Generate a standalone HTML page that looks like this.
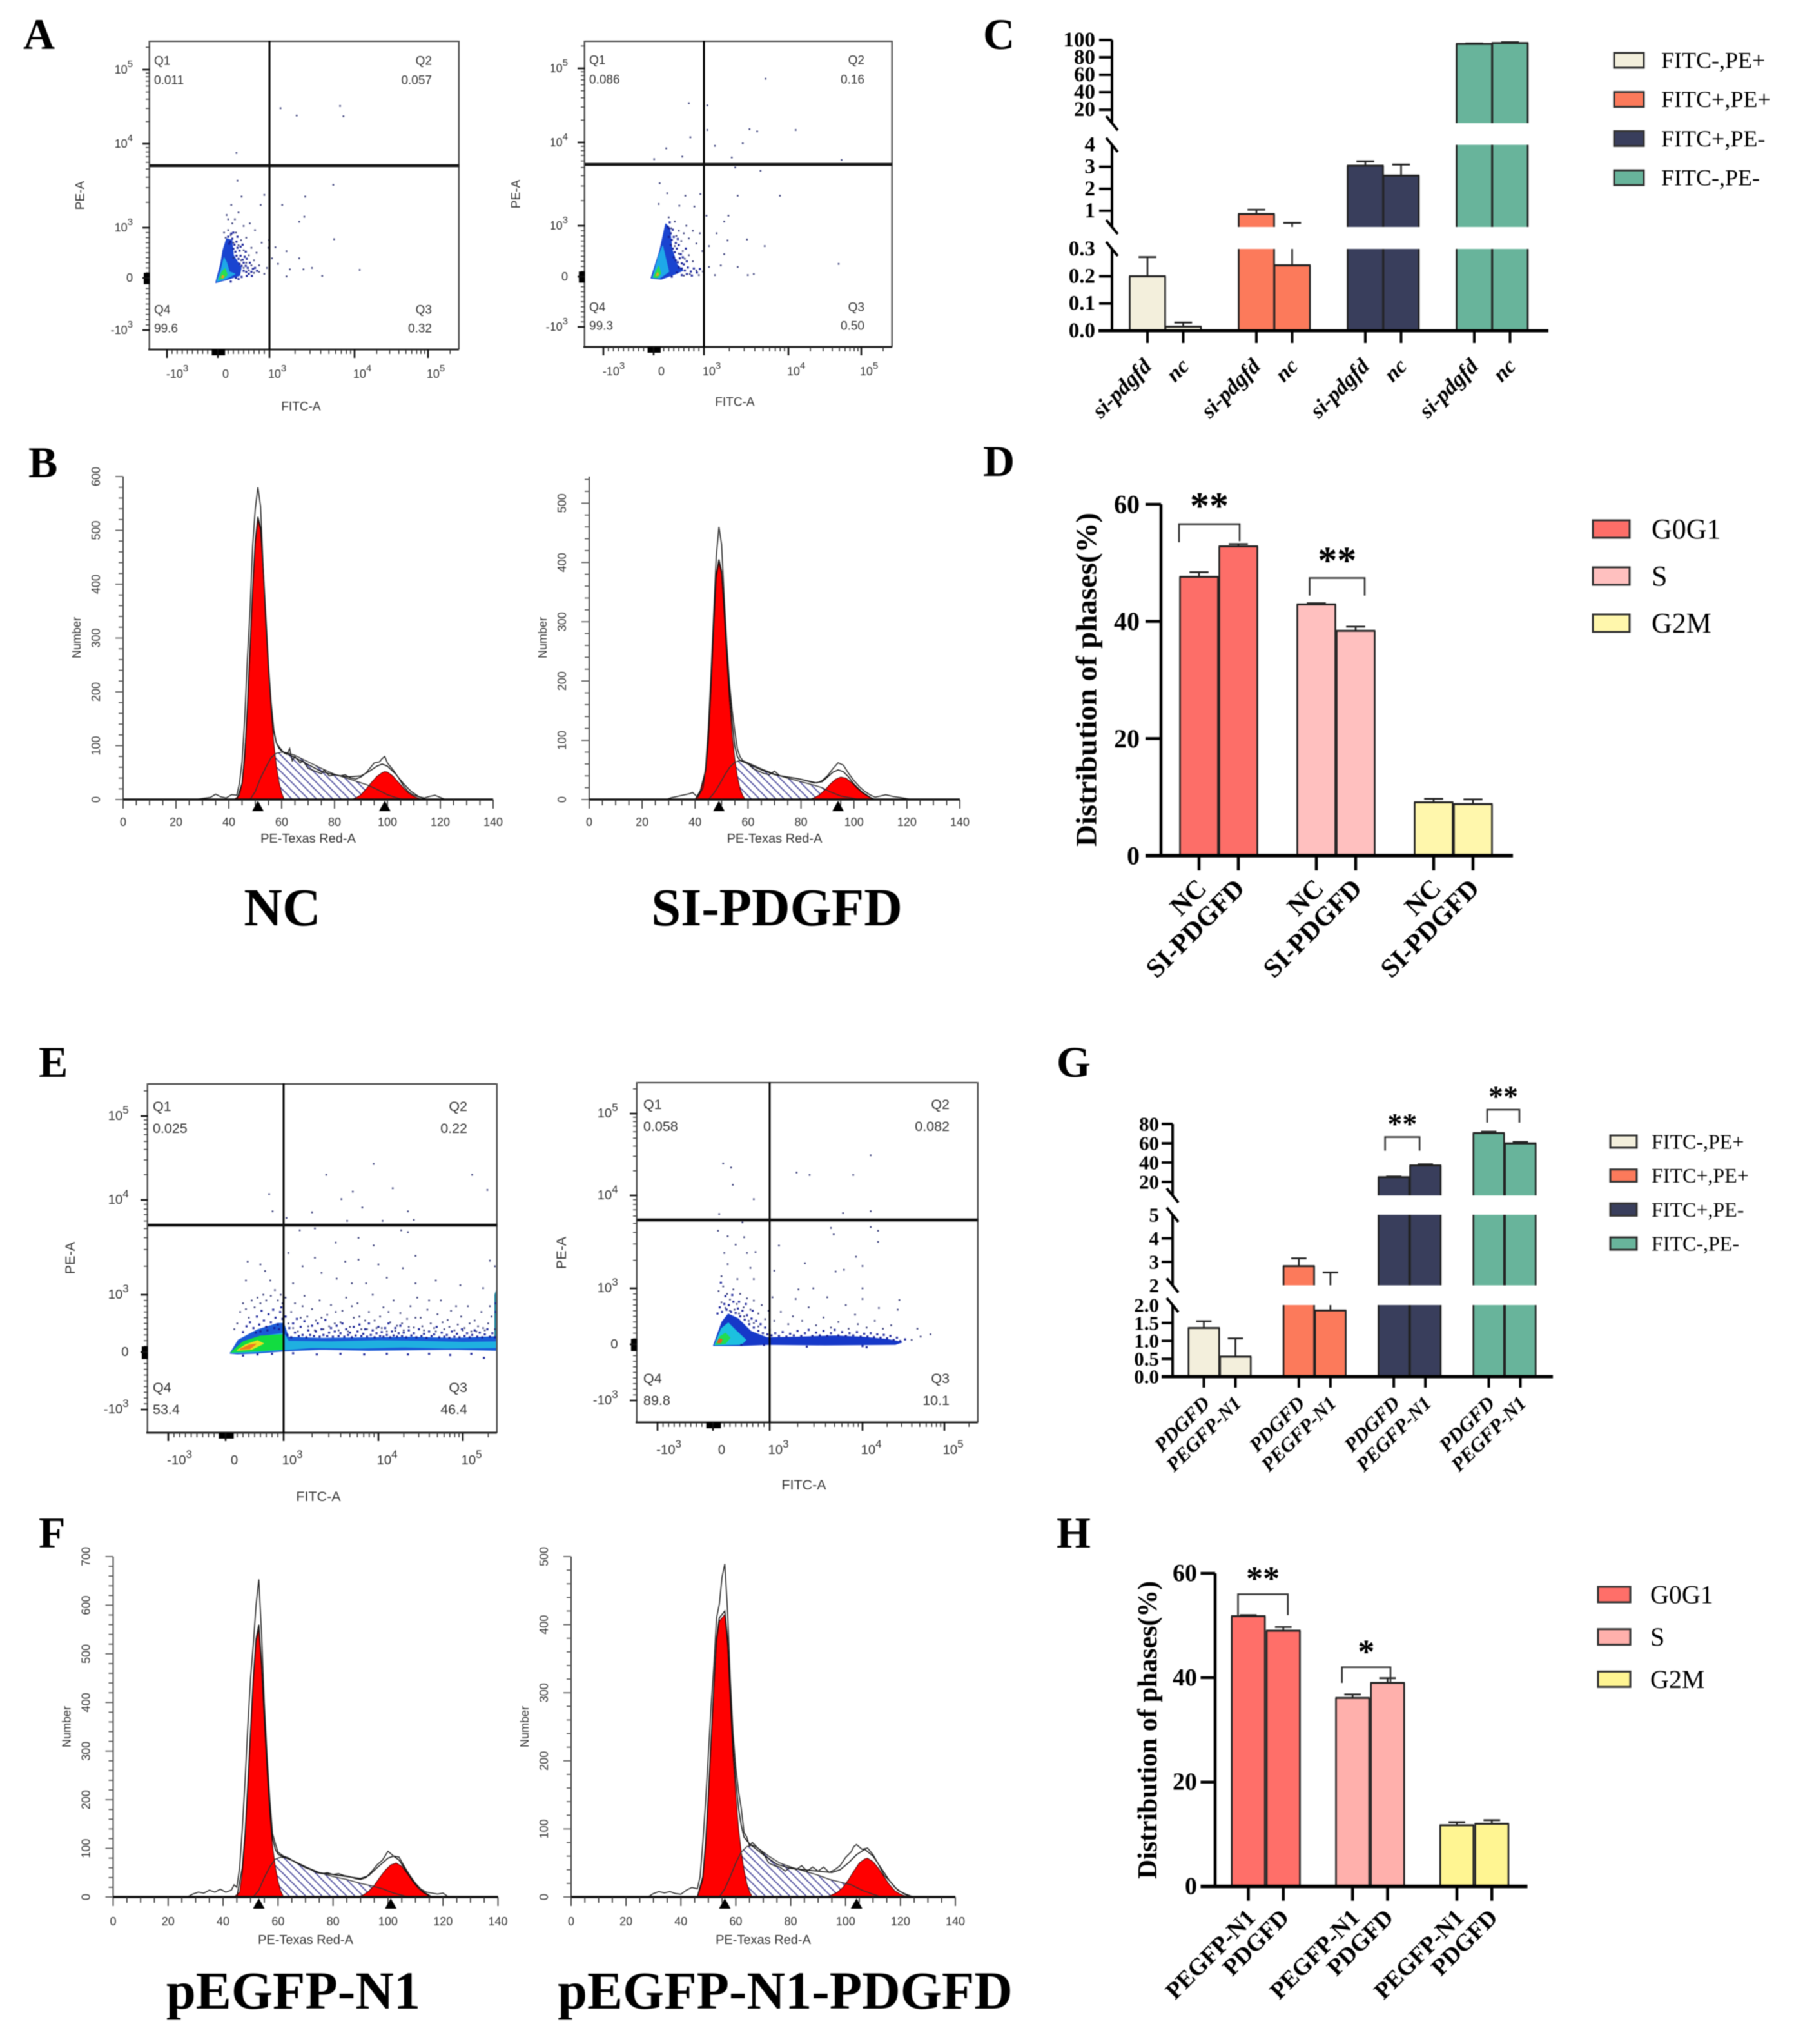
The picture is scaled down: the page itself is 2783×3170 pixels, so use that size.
<!DOCTYPE html>
<html lang="en">
<head>
<meta charset="utf-8">
<title>Flow cytometry apoptosis and cell cycle figure</title>
<style>
html,body{margin:0;padding:0;background:#fff}
#figure{display:block;filter:blur(0.9px)}
.serif{font-family:"Liberation Serif",serif}
.sans{font-family:"Liberation Sans",sans-serif}
</style>
</head>
<body>
<svg id="figure" xmlns="http://www.w3.org/2000/svg" width="2783" height="3170" viewBox="0 0 2783 3170">
<defs>
<pattern id="hatch" patternUnits="userSpaceOnUse" width="9" height="9" patternTransform="rotate(-45)">
<rect width="9" height="9" fill="#ffffff"/>
<line x1="2" y1="0" x2="2" y2="9" stroke="#45459a" stroke-width="1.7"/>
</pattern>
</defs>
<rect width="2783" height="3170" fill="#ffffff"/>
<g class="serif" font-weight="bold" font-size="68" fill="#000">
<text x="36" y="76">A</text>
<text x="44" y="740">B</text>
<text x="1525" y="76">C</text>
<text x="1525" y="738">D</text>
<text x="60" y="1670">E</text>
<text x="60" y="2400">F</text>
<text x="1639" y="1670">G</text>
<text x="1639" y="2400">H</text>
</g>
<g class="serif" font-weight="bold" font-size="82.5" fill="#000" text-anchor="middle">
<text x="438" y="1424" dy="11">NC</text>
<text x="1193" y="1424" dx="12" dy="11">SI-PDGFD</text>
<text x="450" y="3115" dx="5">pEGFP-N1</text>
<text x="1206" y="3115" dx="12">pEGFP-N1-PDGFD</text>
</g>
<g id="plot-a-left"></g>
<g id="plot-a-right"></g>
<g id="plot-e-left"></g>
<g id="plot-e-right"></g>
<g id="hist-b-left"></g>
<g id="hist-b-right"></g>
<g id="hist-f-left"></g>
<g id="hist-f-right"></g>
<g id="chart-c"></g>
<g id="chart-d"></g>
<g id="chart-g"></g>
<g id="chart-h"></g>
</svg>
<script>
/* ---------- bar chart data ---------- */
const apoptosisLegend = ['FITC-,PE+','FITC+,PE+','FITC+,PE-','FITC-,PE-'];
const phaseLegend = ['G0G1','S','G2M'];

const cCategories = ['si-pdgfd','nc'];
const cMeans = [[0.2,0.015],[0.85,0.24],[3.05,2.6],[95.5,96.5]];
const cUpper = [[0.27,0.03],[1.05,0.45],[3.25,3.1],[96,97.5]];
const cTickValues = [[0,0.1,0.2,0.3],[1,2,3,4],[20,40,60,80,100]];
const cTickLabels = [['0.0','0.1','0.2','0.3'],['1','2','3','4'],['20','40','60','80','100']];

const dCategories = ['NC','SI-PDGFD'];
const dMeans = [[47.6,52.8],[42.9,38.4],[9.1,8.8]];
const dUpper = [[48.4,53.2],[43.1,39.1],[9.7,9.6]];
const dTickValues = [[0,20,40,60]];
const dTickLabels = [['0','20','40','60']];

const gCategories = ['PDGFD','PEGFP-N1'];
const gMeans = [[1.36,0.56],[2.82,1.85],[24.8,37],[70.5,59.8]];
const gUpper = [[1.55,1.07],[3.15,2.55],[25.6,38.2],[72,61.3]];
const gTickValues = [[0,0.5,1,1.5,2],[2,3,4,5],[20,40,60,80]];
const gTickLabels = [['0.0','0.5','1.0','1.5','2.0'],['2','3','4','5'],['20','40','60','80']];

const hCategories = ['PEGFP-N1','PDGFD'];
const hMeans = [[51.8,49],[36.1,39],[11.7,12]];
const hUpper = [[52,49.7],[36.8,39.9],[12.3,12.7]];
const hTickValues = [[0,20,40,60]];
const hTickLabels = [['0','20','40','60']];

/* ---------- histogram data: [channel, count] ---------- */
const bLeftRaw = [[0,0],[27,0],[30,2],[33,4],[35,10],[37,5],[39,3],[41,9],[43,8],[44,30],[45,70],[46,150],[47,260],[48,350],[49,470],[50,540],[51,580],[52,545],[53,430],[54,325],[55,245],[56,175],[57,125],[58,105],[59,98],[60,92],[61,86],[62,84],[63,95],[64,72],[65,80],[67,68],[68,72],[70,58],[72,54],[73,52],[75,48],[76,55],[78,44],[80,46],[82,44],[84,46],[86,40],[88,38],[90,42],[92,50],[94,62],[95,68],[97,70],[98,76],[99,80],[100,68],[102,56],[104,42],[106,26],[108,14],[110,8],[112,5],[114,3],[116,6],[118,8],[120,4],[122,0],[140,0]];
const bLeftFit = [[43,0],[45,30],[46,80],[47,170],[48,280],[49,390],[50,480],[51,525],[52,505],[53,430],[54,340],[55,250],[56,180],[57,130],[58,105],[59,95],[60,90],[65,78],[70,65],[75,52],[80,46],[85,42],[90,44],[93,52],[96,62],[98,66],[100,62],[103,48],[106,30],[109,15],[112,5],[115,0]];
const bLeftG1 = [[42,0],[44,8],[45,30],[46,90],[47,165],[48,270],[49,385],[50,475],[51,520],[52,500],[53,425],[54,330],[55,240],[56,165],[57,105],[58,62],[59,32],[60,12],[61,0]];
const bLeftS = [[48,0],[50,15],[52,40],[54,60],[56,78],[58,86],[60,88],[62,87],[65,82],[70,70],[75,58],[80,47],[85,39],[90,31],[93,26],[96,19],[100,9],[103,4],[106,0]];
const bLeftG2 = [[86,0],[88,3],[90,9],[92,20],[94,32],[96,43],[98,50],[99,52],[100,51],[102,44],[104,33],[106,22],[108,12],[110,6],[112,2],[114,0]];
const bLeftPeaks = [51,99];

const bRightRaw = [[0,0],[29,0],[31,3],[33,5],[36,8],[38,10],[39,12],[41,4],[43,20],[44,55],[45,120],[46,210],[47,310],[48,410],[49,460],[50,430],[51,340],[52,260],[53,195],[54,150],[55,115],[56,85],[57,72],[58,66],[60,60],[62,52],[64,48],[66,44],[68,42],[70,48],[72,40],[75,38],[78,36],[80,34],[84,30],[86,28],[88,32],[90,40],[92,52],[94,62],[96,58],[98,44],[100,32],[102,22],[104,14],[106,8],[108,4],[110,6],[112,8],[115,5],[118,3],[122,0],[140,0]];
const bRightFit = [[40,0],[42,15],[44,50],[45,100],[46,190],[47,290],[48,380],[49,405],[50,385],[51,320],[52,245],[53,180],[54,130],[55,90],[56,72],[57,66],[60,60],[65,50],[70,42],[75,38],[80,34],[85,28],[88,30],[90,38],[92,46],[94,50],[96,47],[98,38],[100,26],[103,13],[106,4],[108,0]];
const bRightG1 = [[40,0],[42,14],[44,48],[45,95],[46,185],[47,285],[48,375],[49,400],[50,380],[51,310],[52,235],[53,165],[54,110],[55,68],[56,38],[57,18],[58,7],[59,0]];
const bRightS = [[45,0],[47,10],[49,24],[51,40],[53,54],[55,63],[57,66],[59,64],[62,58],[66,50],[70,43],[75,36],[80,30],[85,24],[88,20],[91,13],[95,6],[100,2],[102,0]];
const bRightG2 = [[83,0],[85,3],[87,8],[89,16],[91,26],[93,34],[95,38],[97,36],[99,29],[101,20],[103,12],[105,6],[107,2],[108,0]];
const bRightPeaks = [49,94];

const fLeftRaw = [[0,0],[27,0],[29,6],[31,10],[33,8],[35,14],[37,10],[39,16],[41,10],[43,14],[44,25],[45,20],[46,60],[47,140],[48,240],[49,350],[50,450],[51,520],[52,600],[53,653],[54,540],[55,400],[56,290],[57,200],[58,130],[59,110],[60,92],[62,84],[64,80],[66,72],[68,66],[70,60],[72,56],[74,50],[76,48],[78,50],[80,46],[82,48],[84,44],[86,42],[88,38],[90,36],[92,40],[94,52],[96,66],[98,76],[100,94],[102,84],[104,82],[106,62],[108,44],[110,28],[112,16],[114,10],[116,8],[118,6],[120,8],[122,0],[140,0]];
const fLeftFit = [[45,0],[47,60],[48,130],[49,230],[50,340],[51,450],[52,530],[53,560],[54,480],[55,370],[56,270],[57,180],[58,120],[59,98],[60,88],[62,82],[65,76],[70,62],[75,50],[80,46],[85,42],[90,38],[93,44],[96,60],[98,70],[100,80],[102,84],[104,76],[107,50],[110,26],[113,10],[116,0]];
const fLeftG1 = [[44,0],[46,10],[47,50],[48,125],[49,225],[50,335],[51,445],[52,525],[53,550],[54,470],[55,360],[56,260],[57,170],[58,105],[59,62],[60,32],[61,12],[62,0]];
const fLeftS = [[51,0],[53,14],[55,40],[57,62],[59,78],[61,82],[63,80],[66,73],[70,62],[75,50],[80,42],[85,36],[90,28],[94,23],[98,17],[102,8],[106,2],[108,0]];
const fLeftG2 = [[89,0],[91,4],[93,12],[95,24],[97,40],[99,55],[101,66],[103,70],[105,63],[107,48],[109,32],[111,18],[113,8],[115,2],[116,0]];
const fLeftPeaks = [53,101];

const fRightRaw = [[0,0],[28,0],[30,5],[32,8],[34,6],[36,8],[38,5],[40,4],[42,10],[44,14],[46,12],[47,30],[48,80],[49,140],[50,210],[51,280],[52,340],[53,410],[54,430],[55,470],[56,489],[57,420],[58,320],[59,240],[60,190],[61,155],[62,130],[63,95],[64,88],[65,75],[66,80],[68,72],[70,64],[72,50],[74,46],[76,44],[78,38],[80,44],[82,40],[84,46],[86,38],[88,44],[90,38],[92,44],[94,36],[96,40],[98,46],[100,58],[102,66],[103,74],[104,77],[106,70],[108,72],[110,62],[112,48],[114,32],[116,24],[118,14],[120,8],[122,4],[124,1],[126,0],[140,0]];
const fRightFit = [[46,0],[48,30],[49,80],[50,150],[51,230],[52,310],[53,380],[54,410],[55,415],[56,420],[57,380],[58,300],[59,220],[60,170],[61,130],[62,105],[63,88],[65,78],[70,62],[75,48],[80,42],[85,40],[90,38],[95,36],[98,40],[101,50],[104,62],[107,70],[110,60],[113,42],[116,24],[119,10],[122,3],[124,0]];
const fRightG1 = [[46,0],[48,25],[49,75],[50,145],[51,225],[52,305],[53,375],[54,405],[55,410],[56,415],[57,370],[58,285],[59,205],[60,150],[61,100],[62,66],[63,40],[64,20],[65,8],[66,0]];
const fRightS = [[54,0],[56,12],[58,30],[60,50],[62,66],[64,74],[66,76],[68,72],[72,60],[76,50],[80,44],[85,38],[90,32],[94,26],[98,22],[102,18],[106,10],[110,4],[113,0]];
const fRightG2 = [[93,0],[95,3],[97,7],[99,14],[101,25],[103,38],[105,50],[107,56],[108,57],[110,52],[112,42],[114,30],[116,18],[118,9],[120,4],[122,1],[124,0]];
const fRightPeaks = [56,104];

/* ---------- flow cytometry events, in axis-scale units (1 = 10^3, 2 = 10^4, 3 = 10^5) ---------- */
const flowXLabels = ['-10','0','10','10','10'];
const flowExponents = ['3','','3','4','5'];
const flowScale = [-1,0,1,2,3];

const aLeftEvents = [[1.13,2.48],[1.32,2.38],[1.83,2.51],[1.87,2.37],[0.36,1.89],[0.38,1.56],[1.75,1.51],[1.42,1.37],[0.9,1.39],[0.46,1.37],[1.15,1.27],[1.41,1.13],[1.35,1.07],[0.83,1.27],[0.26,1.27],[0.4,1.18],[0.17,1.15],[1.76,0.77],[2.07,0.16],[1.62,0.04],[1.5,0.2],[1.35,0.39],[1.2,0.53],[1.07,0.61],[1.03,0.39],[1.1,0.28],[1.24,0.17],[1.2,0.03],[1.4,0.17],[0.12,0.9],[0.15,0.8],[0.2,0.95],[0.25,0.85],[0.3,0.7],[0.35,0.9],[0.4,0.65],[0.45,0.75],[0.5,0.55],[0.55,0.8],[0.6,0.45],[0.65,0.6],[0.7,0.35],[0.75,0.5],[0.8,0.25],[0.3,0.4],[0.45,0.35],[0.5,0.2],[0.55,0.3],[0.6,0.15],[0.65,0.25],[0.7,0.1],[0.8,0.12],[0.9,0.08],[0.95,0.2],[0.98,0.6],[0.99,0.75],[0.85,0.7],[0.72,0.95],[0.62,1.05],[0.5,1.02],[0.33,1.1],[0.28,1.05],[0.2,1.1]];
const aLeftDense = [[0.2,0.82],[0.24,0.72],[0.28,0.78],[0.32,0.66],[0.36,0.72],[0.3,0.58],[0.34,0.52],[0.38,0.6],[0.42,0.54],[0.36,0.44],[0.4,0.38],[0.44,0.44],[0.48,0.36],[0.42,0.28],[0.46,0.24],[0.5,0.3],[0.54,0.24],[0.5,0.14],[0.55,0.12],[0.6,0.08],[0.65,0.12],[0.58,0.2],[0.62,0.3],[0.68,0.18],[0.72,0.2],[0.76,0.14],[0.52,0.42],[0.56,0.38],[0.26,0.88],[0.3,0.9],[0.22,0.68],[0.38,0.82],[0.44,0.62],[0.48,0.66],[0.54,0.52],[0.46,0.02],[0.35,0],[0.25,-0.07],[0.4,-0.02],[0.56,0.04],[0.66,0.04]];
const aLeftBlue = [[-0.04,-0.09],[0.06,0.3],[0.1,0.55],[0.17,0.78],[0.27,0.75],[0.3,0.45],[0.45,0.2],[0.42,0.05],[0.18,-0.03]];
const aLeftCyan = [[-0.02,-0.07],[0.06,0.15],[0.12,0.4],[0.17,0.3],[0.22,0.12],[0.33,0.08],[0.15,-0.02]];
const aLeftGreen = [[0.02,-0.03],[0.08,0.12],[0.14,0.18],[0.18,0.06],[0.1,-0.01]];
const aLeftCore = [[0.07,0.01],[0.09,0.05],[0.12,0.03],[0.1,0]];

const aRightEvents = [[1.73,2.86],[0.7,2.53],[1.04,2.5],[1.04,2.17],[1.54,2.18],[1.63,2.15],[2.1,2.17],[0.73,2.07],[1.46,1.99],[1.13,1.96],[0.25,1.93],[0.57,1.83],[0.01,1.8],[1.33,1.82],[2.73,1.79],[1.37,1.7],[1.67,1.66],[0.12,1.51],[1.9,1.36],[1.4,1.36],[0.93,1.38],[0.27,1.39],[0.63,1.36],[0.51,1.24],[0.81,1.23],[0.1,1.26],[1.29,1.12],[1.24,1.05],[1.03,1.12],[1.15,0.85],[1.51,0.73],[1.28,0.71],[1.72,0.6],[1.06,0.6],[1.24,0.44],[2.69,0.25],[1.4,0.19],[1.59,0.05],[1.52,0.03],[1.13,0.03],[1.2,0.22],[1.06,0.19],[0.3,1.1],[0.35,0.95],[0.42,1.05],[0.45,0.8],[0.5,0.9],[0.55,0.7],[0.6,0.85],[0.65,1],[0.7,0.75],[0.78,0.9],[0.85,0.65],[0.92,0.85],[0.97,0.5],[0.42,0.6],[0.5,0.45],[0.58,0.5],[0.62,0.35],[0.7,0.42],[0.78,0.3],[0.85,0.12],[0.9,0.03],[0.98,0.1],[0.72,0.05],[0.6,0.02]];
const aRightDense = [[0.3,0.95],[0.34,0.85],[0.38,0.92],[0.3,0.78],[0.36,0.72],[0.4,0.78],[0.44,0.66],[0.34,0.62],[0.38,0.55],[0.42,0.48],[0.46,0.55],[0.5,0.62],[0.4,0.38],[0.44,0.32],[0.48,0.28],[0.52,0.36],[0.56,0.26],[0.5,0.18],[0.56,0.16],[0.62,0.12],[0.68,0.18],[0.74,0.1],[0.8,0.16],[0.86,0.08],[0.92,0.15],[0.6,0.24],[0.66,0.3],[0.54,0.44],[0.58,0.38],[0.46,0.08],[0.56,0.03],[0.66,0.05],[0.76,0.02],[0.36,0],[0.28,0.98],[0.32,1.04],[0.48,0.74],[0.64,0.55]];
const aRightBlue = [[-0.05,-0.03],[0.12,0.5],[0.24,1.02],[0.32,0.95],[0.36,0.55],[0.46,0.24],[0.58,0.12],[0.42,0.05],[0.15,-0.05]];
const aRightCyan = [[-0.02,-0.02],[0.1,0.4],[0.18,0.6],[0.25,0.3],[0.3,0.1],[0.12,-0.03]];
const aRightGreen = [[0,-0.01],[0.06,0.12],[0.1,0.2],[0.14,0.06],[0.07,-0.02]];
const aRightCore = [[0.05,0.02],[0.08,0.08],[0.1,0.03]];

const eLeftEvents = [[1.95,2.43],[1.45,2.3],[3.11,2.3],[2.17,2.14],[3.29,2.12],[1.73,2.1],[0.75,2.07],[1.61,2.01],[1.83,1.92],[0.81,1.88],[1.3,1.87],[2.35,1.88],[1.03,1.81],[1.67,1.78],[2.05,1.78],[2.42,1.79],[1.33,1.7],[1.17,1.68],[2.27,1.68],[2.35,1.66],[1.79,1.6],[1.55,1.55],[1.95,1.52],[2.44,1.41],[1.05,1.44],[1.33,1.39],[3.32,1.36],[0.38,1.35],[0.6,1.32],[1.2,1.3],[1.65,1.35],[1.79,1.37],[2,1.32],[2.29,1.28],[3.38,1.3],[0.68,1.25],[1.4,1.23],[0.35,1.15],[0.77,1.15],[1.1,1.12],[1.56,1.17],[1.72,1.12],[1.87,1.12],[2.1,1.18],[2.44,1.12],[2.68,1.15],[2.97,1.1],[3.24,1.07],[1.02,0.95],[1.08,0.7],[1.12,0.85],[1.18,0.6],[1.22,0.98],[1.26,0.45],[1.3,0.75],[1.34,0.55],[1.38,0.9],[1.42,0.4],[1.46,0.65],[1.5,0.82],[1.54,0.5],[1.58,0.38],[1.62,0.72],[1.66,0.95],[1.7,0.44],[1.74,0.6],[1.78,0.85],[1.82,0.4],[1.86,0.55],[1.9,0.7],[1.94,1],[1.98,0.42],[2.02,0.62],[2.06,0.78],[2.1,0.36],[2.14,0.52],[2.18,0.9],[2.22,0.46],[2.26,0.68],[2.3,0.38],[2.34,0.58],[2.38,0.8],[2.42,0.43],[2.46,0.95],[2.5,0.6],[2.54,0.38],[2.58,0.74],[2.62,0.5],[2.66,0.42],[2.7,0.66],[2.74,0.9],[2.78,0.4],[2.82,0.56],[2.86,0.72],[2.9,0.38],[2.94,0.48],[2.98,0.62],[3.02,0.42],[3.06,0.8],[3.1,0.36],[3.14,0.55],[3.18,0.45],[3.22,0.7],[3.26,0.38],[3.3,0.5],[3.34,0.62],[3.38,0.4],[1.05,0.5],[1.1,0.42],[1.15,0.36],[1.2,0.8],[1.25,0.62],[1.33,0.38],[1.4,0.6],[1.48,0.45],[1.55,0.7],[1.6,0.52],[1.68,0.36],[1.72,0.8],[1.8,0.62],[1.88,0.4],[1.96,0.55],[2.04,0.42],[2.12,0.7],[2.2,0.37],[2.28,0.5],[2.36,0.44],[2.44,0.6],[2.52,0.45],[2.6,0.9],[2.68,0.36],[2.76,0.52],[2.84,0.44],[2.92,0.8],[3,0.38],[3.08,0.5],[3.16,0.36],[3.24,0.42],[3.32,0.8],[0.2,0.5],[0.25,0.7],[0.3,0.85],[0.4,0.6],[0.45,0.9],[0.5,0.78],[0.55,0.95],[0.6,0.85],[0.65,1],[0.7,0.9],[0.78,0.98],[0.85,1.05],[0.9,0.9],[0.95,1],[0.98,0.85],[0.15,0.4],[0.35,0.75]];
const eLeftDense = [[0.3,0.35],[0.36,0.45],[0.42,0.52],[0.48,0.42],[0.54,0.62],[0.58,0.48],[0.62,0.72],[0.66,0.55],[0.7,0.44],[0.74,0.66],[0.78,0.52],[0.82,0.74],[0.86,0.6],[0.9,0.48],[0.94,0.7],[0.98,0.58],[0.96,0.78],[0.6,0.36],[0.52,0.34],[0.72,0.38],[0.84,0.42],[0.92,0.4],[1.02,0.62],[1.04,0.3],[1.06,0.42],[1.08,0.26],[1.1,0.5],[1.12,0.34],[1.14,0.58],[1.16,0.28],[1.18,0.44],[1.2,0.3],[1.22,0.54],[1.24,0.26],[1.26,0.38],[1.28,0.3],[1.3,0.46],[1.32,0.28],[1.34,0.36],[1.36,0.5],[1.38,0.27],[1.4,0.4],[1.42,0.3],[1.44,0.56],[1.46,0.28],[1.48,0.34],[1.5,0.42],[1.52,0.27],[1.54,0.36],[1.56,0.46],[1.58,0.28],[1.6,0.33],[1.62,0.5],[1.64,0.27],[1.66,0.4],[1.68,0.3],[1.7,0.34],[1.72,0.26],[1.74,0.44],[1.76,0.29],[1.78,0.36],[1.8,0.48],[1.82,0.28],[1.84,0.32],[1.86,0.4],[1.88,0.27],[1.9,0.5],[1.92,0.3],[1.94,0.38],[1.96,0.26],[1.98,0.33],[2,0.44],[2.02,0.28],[2.04,0.35],[2.06,0.27],[2.08,0.42],[2.1,0.3],[2.12,0.5],[2.14,0.26],[2.16,0.36],[2.18,0.29],[2.2,0.42],[2.22,0.27],[2.24,0.33],[2.26,0.46],[2.28,0.28],[2.3,0.34],[2.33,0.26],[2.36,0.38],[2.39,0.29],[2.42,0.33],[2.45,0.26],[2.48,0.4],[2.51,0.28],[2.54,0.32],[2.57,0.25],[2.6,0.36],[2.63,0.28],[2.66,0.31],[2.69,0.44],[2.72,0.26],[2.75,0.34],[2.78,0.27],[2.81,0.3],[2.84,0.25],[2.87,0.36],[2.9,0.27],[2.93,0.32],[2.96,0.26],[2.99,0.4],[3.02,0.28],[3.05,0.33],[3.08,0.26],[3.11,0.3],[3.14,0.38],[3.17,0.27],[3.2,0.34],[3.23,0.26],[3.26,0.31],[3.29,0.4],[3.32,0.27],[3.35,0.33],[3.38,0.26],[3.39,0.7],[3.39,0.85],[1.1,-0.02],[1.35,-0.04],[1.6,-0.03],[1.85,-0.04],[2.1,-0.03],[2.35,-0.04],[2.6,-0.03],[2.85,-0.05],[3.1,-0.03],[3.25,-0.1],[0.3,-0.06],[0.55,-0.04],[0.8,-0.03]];
const eLeftBlue = [[0.08,-0.02],[0.22,0.21],[0.55,0.39],[0.9,0.5],[1,0.5],[1.05,0.26],[1.4,0.24],[1.9,0.25],[2.4,0.26],[2.9,0.24],[3.4,0.27],[3.4,0.03],[2.9,0.05],[2.4,0.04],[1.9,0.03],[1.4,0.05],[1,0.02],[0.5,-0.02],[0.2,-0.03]];
const eLeftCyan = [[0.1,-0.01],[0.28,0.15],[0.6,0.27],[1,0.33],[1.05,0.19],[1.5,0.18],[2,0.2],[2.5,0.19],[3,0.17],[3.4,0.18],[3.4,0.08],[2.8,0.07],[2.3,0.09],[1.8,0.07],[1.3,0.08],[1,0.04],[0.5,0],[0.2,-0.01]];
const eLeftGreen = [[0.1,0],[0.3,0.18],[0.6,0.28],[0.98,0.3],[1,0.05],[0.5,0.02]];
const eLeftYellow = [[0.2,0.03],[0.35,0.13],[0.55,0.2],[0.65,0.15],[0.45,0.05]];
const eLeftCore = [[0.25,0.05],[0.4,0.12],[0.52,0.14],[0.42,0.06]];
const eLeftEdge = [[3.38,0.05],[3.38,1.0],[3.4,1.05],[3.4,0.05]];

const eRightEvents = [[0.18,2.39],[0.32,2.34],[0.35,2.13],[1.29,2.28],[1.43,2.25],[1.9,2.25],[2.1,2.49],[0.72,1.96],[0.11,1.8],[1.79,1.81],[2.1,1.83],[0.09,1.62],[0.52,1.71],[0.26,1.56],[0.55,1.55],[1.66,1.65],[1.69,1.58],[2.1,1.66],[2.19,1.62],[2.19,1.5],[1.1,1.46],[0.4,1.47],[1.93,1.34],[0.2,1.38],[0.6,1.38],[0.75,1.39],[1.38,1.27],[2,1.24],[1.71,1.18],[1.8,1.2],[1.05,1.19],[0.26,1.26],[0.66,1.22],[0.15,1.13],[0.43,1.1],[0.72,1.1],[1.31,0.98],[1.47,1],[2,1],[1.03,0.84],[1.28,0.81],[1.62,0.84],[2.45,0.79],[1.82,0.7],[2,0.81],[2.43,0.62],[2.2,0.65],[1.92,0.53],[2.67,0.28],[2.83,0.18],[2.71,0.14],[2.6,0.08],[0.1,0.95],[0.18,1.02],[0.25,0.9],[0.3,0.8],[0.36,0.98],[0.42,0.72],[0.48,0.9],[0.54,0.66],[0.6,0.82],[0.66,0.62],[0.72,0.78],[0.8,0.55],[0.86,0.7],[0.92,0.45],[0.98,0.6],[1.05,0.42],[1.12,0.58],[1.2,0.36],[1.25,0.5],[1.35,0.42],[1.42,0.66],[1.5,0.34],[1.58,0.48],[1.66,0.3],[1.74,0.4],[1.85,0.28],[1.95,0.36],[2.05,0.3],[2.15,0.42],[2.25,0.28],[2.35,0.34],[0.15,0.75],[0.22,0.65],[0.3,0.6],[0.38,0.62],[0.46,0.55],[0.55,0.5],[0.63,0.42],[0.72,0.38],[0.8,0.32]];
const eRightDense = [[0.08,0.55],[0.12,0.66],[0.16,0.58],[0.2,0.72],[0.24,0.62],[0.28,0.7],[0.32,0.58],[0.36,0.76],[0.4,0.56],[0.44,0.64],[0.48,0.5],[0.52,0.6],[0.56,0.44],[0.6,0.52],[0.64,0.36],[0.68,0.46],[0.72,0.3],[0.76,0.42],[0.8,0.24],[0.84,0.36],[0.88,0.2],[0.92,0.3],[0.96,0.18],[1,0.26],[0.14,1.06],[0.22,0.86],[0.34,0.88],[0.46,0.76],[0.58,0.72],[0.7,0.6],[1.02,0.16],[1.06,0.2],[1.1,0.15],[1.14,0.22],[1.18,0.14],[1.22,0.19],[1.26,0.16],[1.3,0.24],[1.34,0.15],[1.38,0.2],[1.42,0.26],[1.46,0.15],[1.5,0.21],[1.54,0.16],[1.58,0.24],[1.62,0.15],[1.66,0.2],[1.7,0.26],[1.74,0.16],[1.78,0.22],[1.82,0.15],[1.86,0.2],[1.9,0.16],[1.94,0.22],[1.98,0.14],[2.02,0.19],[2.06,0.14],[2.1,0.2],[2.14,0.13],[2.18,0.18],[2.22,0.12],[2.26,0.17],[2.3,0.11],[2.34,0.15],[2.38,0.08],[2.42,0.12],[2.46,0.06],[2.52,0.09],[1.4,-0.04],[2,-0.03],[2.05,-0.05],[0.5,-0.01],[0.9,-0.01]];
const eRightBlue = [[0.01,-0.02],[0.16,0.4],[0.27,0.54],[0.44,0.46],[0.67,0.23],[0.95,0.12],[1.3,0.13],[1.7,0.15],[2,0.13],[2.3,0.09],[2.48,0.04],[2.4,0],[1.6,-0.01],[0.95,0],[0.5,-0.02]];
const eRightCyan = [[0.03,-0.01],[0.15,0.28],[0.27,0.38],[0.4,0.25],[0.58,0.08],[0.5,0]];
const eRightGreen = [[0.05,0],[0.13,0.14],[0.22,0.2],[0.3,0.12],[0.22,0.02]];
const eRightCore = [[0.08,0.03],[0.11,0.1],[0.16,0.09],[0.14,0.03]];

/* ---------- shared drawing helpers ---------- */
const NS = 'http://www.w3.org/2000/svg';
function make(parent, tag, attrs, text) {
  const node = document.createElementNS(NS, tag);
  for (const key in attrs) node.setAttribute(key, attrs[key]);
  if (text !== undefined) node.textContent = text;
  parent.appendChild(node);
  return node;
}
function line(parent, x1, y1, x2, y2, stroke, width, name) {
  const el = make(parent, 'line', {x1: x1, y1: y1, x2: x2, y2: y2, stroke: stroke, 'stroke-width': width});
  
  
  return el;
}
function box(parent, x, y, w, h, fill, name) {
  const el = make(parent, 'rect', {x: x, y: y, width: w, height: h, fill: fill});
  
  
  return el;
}
function path(parent, d, attrs, name) {
  const el = make(parent, 'path', Object.assign({d: d}, attrs));
  
  
  return el;
}
function label(parent, x, y, text, o, name) {
  const a = {x: x, y: y, 'font-size': o.size, fill: o.fill || '#000', 'text-anchor': o.anchor || 'middle',
    'font-family': o.sans ? '"Liberation Sans",sans-serif' : '"Liberation Serif",serif'};
  if (o.bold) a['font-weight'] = 'bold';
  if (o.italic) a['font-style'] = 'italic';
  if (o.central) a['dominant-baseline'] = 'central';
  if (o.rotate) a.transform = 'rotate(' + o.rotate + ' ' + x + ' ' + y + ')';
  if (o.length) { a.textLength = o.length; a.lengthAdjust = 'spacingAndGlyphs'; }
  const el = make(parent, 'text', a, text);
  
  
  return el;
}
function piecewise(domain, range) {
  return function (v) {
    let i = 0;
    while (i < domain.length - 2 && v > domain[i + 1]) i++;
    return range[i] + (v - domain[i]) * (range[i + 1] - range[i]) / (domain[i + 1] - domain[i]);
  };
}

/* ---------- flow cytometry plots ---------- */
function drawFlow(cfg) {
  const g = document.getElementById(cfg.id);
  const xs = piecewise(flowScale, cfg.xTicks);
  const ys = piecewise(flowScale, cfg.yTicks);
  const f = cfg.frame;
  const poly = function (pts) {
    return 'M' + pts.map(function (p) { return xs(p[0]).toFixed(1) + ' ' + ys(p[1]).toFixed(1); }).join('L') + 'Z';
  };
  cfg.density.forEach(function (layer) {
    path(g, poly(layer.points), {fill: layer.color, 'stroke': layer.color, 'stroke-width': 1.5, 'stroke-linejoin': 'round'}, 'density-' + layer.level);
  });
  cfg.events.forEach(function (p) {
    const dot = box(g, xs(p[0]) - 1.3, ys(p[1]) - 1.3, 2.6, 2.6, '#2a3070', 'event-dot');
    dot.setAttribute('opacity', '0.9');
  });
  cfg.dense.forEach(function (p) {
    const dense = box(g, xs(p[0]) - 1.6, ys(p[1]) - 1.6, 3.2, 3.2, '#141e96', 'dense-event-dot');
    dense.setAttribute('opacity', '0.95');
  });
  box(g, f[0], f[1], f[2] - f[0], 2, '#333', 'frame-top');
  box(g, f[2] - 1.5, f[1], 2.5, f[3] - f[1], '#555', 'frame-right');
  box(g, f[0] - 1.5, f[1], 2.5, f[3] - f[1], '#555', 'frame-left');
  box(g, f[0] - 2, f[3] - 1.5, f[2] - f[0] + 2, 3, '#222', 'frame-bottom');
  line(g, xs(1), f[1], xs(1), f[3], '#000', 3, 'vertical-gate');
  line(g, f[0], cfg.gateY, f[2], cfg.gateY, '#111', 4.5, 'horizontal-gate');

  const minors = [];
  for (let t = -1; t <= 1.0001; t += 0.1) minors.push(t);
  [1, 2, 3].forEach(function (d) {
    [2, 3, 4, 5, 6, 7, 8, 9].forEach(function (k) { minors.push(d + Math.log10(k)); });
  });
  minors.forEach(function (t) {
    const px = xs(t);
    if (px > f[0] && px < f[2]) line(g, px, f[3], px, f[3] + 7, '#333', 1.6, 'x-minor-tick');
    const py = ys(t);
    if (py > f[1] && py < f[3]) line(g, f[0] - 6, py, f[0], py, '#444', 1.6, 'y-minor-tick');
  });
  box(g, xs(-0.12), f[3], xs(0.14) - xs(-0.12), 9, '#000', 'x-zero-tick-block');
  box(g, f[0] - 9, ys(0.1), 9, ys(-0.12) - ys(0.1), '#000', 'y-zero-tick-block');

  const s = cfg.scale;
  flowScale.forEach(function (v, i) {
    line(g, xs(v), f[3], xs(v), f[3] + 13, '#111', 2.6, 'x-major-tick');
    line(g, f[0] - 11, ys(v), f[0], ys(v), '#111', 2.6, 'y-major-tick');
    const tx = label(g, xs(v) + 12 * s + (i === 0 ? 4 : 0), f[3] + 38 * s, flowXLabels[i], {size: 18 * s, fill: '#333', sans: true, central: true}, 'x-tick-label');
    if (flowExponents[i]) {
      const sup = make(tx, 'tspan', {dy: -9 * s, 'font-size': 15 * s}, flowExponents[i]);
      
      
    }
    const ty = label(g, f[0] - 26 * s, ys(v), flowXLabels[i], {size: 18 * s, fill: '#333', sans: true, central: true, anchor: 'end'}, 'y-tick-label');
    if (flowExponents[i]) {
      const supY = make(ty, 'tspan', {dy: -9 * s, 'font-size': 15 * s}, flowExponents[i]);
      
      
    }
  });

  const qs = {size: 19 * s, fill: '#333', sans: true, central: true, anchor: 'start'};
  const qe = {size: 19 * s, fill: '#333', sans: true, central: true, anchor: 'end'};
  const q = cfg.quad;
  label(g, q.left, q.top1, 'Q1', qs, 'quadrant-q1-name');
  label(g, q.left, q.top2, cfg.values[0], qs, 'quadrant-q1-value');
  label(g, q.right, q.top1, 'Q2', qe, 'quadrant-q2-name');
  label(g, q.right, q.top2, cfg.values[1], qe, 'quadrant-q2-value');
  label(g, q.right, q.bot1, 'Q3', qe, 'quadrant-q3-name');
  label(g, q.right, q.bot2, cfg.values[2], qe, 'quadrant-q3-value');
  label(g, q.left, q.bot1, 'Q4', qs, 'quadrant-q4-name');
  label(g, q.left, q.bot2, cfg.values[3], qs, 'quadrant-q4-value');
  label(g, cfg.xLabel[0], cfg.xLabel[1], 'FITC-A', {size: 19 * s, fill: '#333', sans: true, central: true}, 'x-axis-title');
  label(g, cfg.yLabel[0], cfg.yLabel[1], 'PE-A', {size: 19 * s, fill: '#333', sans: true, central: true, rotate: -90}, 'y-axis-title');
}
const densityColors = {blue: '#1a44d0', cyan: '#1ea8e8', green: '#2ade50', core: '#e8a020'};
drawFlow({id: 'plot-a-left', frame: [232, 63, 712, 542], gateY: 257, xTicks: [259, 338, 418, 550, 664], yTicks: [512, 431, 353, 223, 108], scale: 1,
  events: aLeftEvents, dense: aLeftDense, density: [{level: 'low', color: densityColors.blue, points: aLeftBlue}, {level: 'mid', color: densityColors.cyan, points: aLeftCyan}, {level: 'high', color: densityColors.green, points: aLeftGreen}, {level: 'peak', color: densityColors.core, points: aLeftCore}],
  values: ['0.011', '0.057', '0.32', '99.6'], quad: {left: 239, right: 670, top1: 95, top2: 125, bot1: 481, bot2: 510}, xLabel: [467, 631], yLabel: [125, 303]});
drawFlow({id: 'plot-a-right', frame: [907, 63, 1384, 538], gateY: 255, xTicks: [936, 1014, 1092, 1223, 1336], yTicks: [507, 429, 350, 221, 106], scale: 1,
  events: aRightEvents, dense: aRightDense, density: [{level: 'low', color: densityColors.blue, points: aRightBlue}, {level: 'mid', color: densityColors.cyan, points: aRightCyan}, {level: 'high', color: densityColors.green, points: aRightGreen}, {level: 'peak', color: densityColors.core, points: aRightCore}],
  values: ['0.086', '0.16', '0.50', '99.3'], quad: {left: 914, right: 1341, top1: 94, top2: 124, bot1: 477, bot2: 506}, xLabel: [1140, 624], yLabel: [801, 301]});
drawFlow({id: 'plot-e-left', frame: [229, 1680, 771, 2222], gateY: 1900, xTicks: [261, 350, 440, 587, 718], yTicks: [2186, 2097, 2008, 1861, 1731], scale: 1.13,
  events: eLeftEvents, dense: eLeftDense, density: [{level: 'edge', color: '#1c7f9a', points: eLeftEdge}, {level: 'low', color: '#1a5ad6', points: eLeftBlue}, {level: 'mid', color: '#1fb0e0', points: eLeftCyan}, {level: 'high', color: '#12dc40', points: eLeftGreen}, {level: 'warm', color: '#e6e020', points: eLeftYellow}, {level: 'peak', color: '#ee7a20', points: eLeftCore}],
  values: ['0.025', '0.22', '46.4', '53.4'], quad: {left: 237, right: 725, top1: 1716, top2: 1750, bot1: 2152, bot2: 2186}, xLabel: [494, 2321], yLabel: [109, 1951]});
drawFlow({id: 'plot-e-right', frame: [988, 1678, 1517, 2206], gateY: 1892, xTicks: [1020, 1106, 1194, 1338, 1465], yTicks: [2172, 2085, 1998, 1854, 1727], scale: 1.13,
  events: eRightEvents, dense: eRightDense, density: [{level: 'low', color: '#1638c8', points: eRightBlue}, {level: 'mid', color: '#1cc0e0', points: eRightCyan}, {level: 'high', color: '#22dc50', points: eRightGreen}, {level: 'peak', color: '#e06020', points: eRightCore}],
  values: ['0.058', '0.082', '10.1', '89.8'], quad: {left: 998, right: 1473, top1: 1713, top2: 1747, bot1: 2138, bot2: 2172}, xLabel: [1247, 2303], yLabel: [871, 1943]});

/* ---------- cell cycle histograms ---------- */
function drawHistogram(cfg) {
  const g = document.getElementById(cfg.id);
  const xs = function (v) { return cfg.x0 + v * (cfg.x1 - cfg.x0) / 140; };
  const ys = function (v) { return cfg.base - v * (cfg.base - cfg.yTop) / cfg.yMax; };
  const curve = function (pts) {
    return pts.map(function (p, i) { return (i ? 'L' : 'M') + xs(p[0]).toFixed(1) + ' ' + ys(p[1]).toFixed(1); }).join('');
  };
  path(g, curve(cfg.s) + 'Z', {fill: 'url(#hatch)'}, 'synthesis-phase-area');
  path(g, curve(cfg.g1) + 'Z', {fill: '#ff0000', stroke: '#300', 'stroke-width': 1}, 'g1-peak-area');
  path(g, curve(cfg.g2) + 'Z', {fill: '#ff0000', stroke: '#300', 'stroke-width': 1}, 'g2-peak-area');
  path(g, curve(cfg.s), {fill: 'none', stroke: '#333', 'stroke-width': 1.5}, 'synthesis-phase-outline');
  path(g, curve(cfg.fit), {fill: 'none', stroke: '#111', 'stroke-width': 1.6}, 'fit-curve');
  path(g, curve(cfg.raw), {fill: 'none', stroke: '#222', 'stroke-width': 1.6}, 'raw-histogram');
  line(g, cfg.x0, cfg.base, cfg.x0, cfg.yTop, '#444', 2, 'y-axis-line');
  line(g, cfg.x0, cfg.base, cfg.x1, cfg.base, '#111', 3.5, 'x-axis-line');
  for (let v = 0; v <= 140; v += 5) {
    const major = v % 20 === 0;
    line(g, xs(v), cfg.base, xs(v), cfg.base + (major ? 14 : 9), '#333', 1.7, 'x-tick');
    if (major) label(g, xs(v), cfg.base + cfg.tickGap, String(v), {size: 18, fill: '#333', sans: true, central: true}, 'x-tick-label');
  }
  for (let v = 0; ys(v) >= cfg.yTop - 0.5; v += 20) {
    const major = v % 100 === 0;
    line(g, cfg.x0 - (major ? 12 : 7), ys(v), cfg.x0, ys(v), '#555', 1.7, 'y-tick');
    if (major) label(g, cfg.x0 - 42, ys(v), String(v), {size: 18, fill: '#333', sans: true, central: true, rotate: -90}, 'y-tick-label');
  }
  cfg.peaks.forEach(function (v) {
    const x = xs(v);
    path(g, 'M' + x + ' ' + (cfg.base + 2) + 'L' + (x + 9) + ' ' + (cfg.base + 18) + 'L' + (x - 9) + ' ' + (cfg.base + 18) + 'Z', {fill: '#000'}, 'peak-marker');
  });
  label(g, (cfg.x0 + cfg.x1) / 2, cfg.base + cfg.titleGap, 'PE-Texas Red-A', {size: 20, fill: '#333', sans: true, central: true}, 'x-axis-title');
  label(g, cfg.x0 - 72, cfg.midY, 'Number', {size: 18, fill: '#333', sans: true, central: true, rotate: -90}, 'y-axis-title');
}
drawHistogram({id: 'hist-b-left', x0: 191, x1: 765, base: 1240, yTop: 739, yMax: 600, tickGap: 35, titleGap: 61, midY: 989, raw: bLeftRaw, fit: bLeftFit, g1: bLeftG1, s: bLeftS, g2: bLeftG2, peaks: bLeftPeaks});
drawHistogram({id: 'hist-b-right', x0: 914, x1: 1489, base: 1240, yTop: 739, yMax: 545, tickGap: 35, titleGap: 61, midY: 989, raw: bRightRaw, fit: bRightFit, g1: bRightG1, s: bRightS, g2: bRightG2, peaks: bRightPeaks});
drawHistogram({id: 'hist-f-left', x0: 175.5, x1: 772.5, base: 2942, yTop: 2414, yMax: 700, tickGap: 38, titleGap: 67, midY: 2678, raw: fLeftRaw, fit: fLeftFit, g1: fLeftG1, s: fLeftS, g2: fLeftG2, peaks: fLeftPeaks});
drawHistogram({id: 'hist-f-right', x0: 886, x1: 1482, base: 2942, yTop: 2414, yMax: 500, tickGap: 38, titleGap: 67, midY: 2678, raw: fRightRaw, fit: fRightFit, g1: fRightG1, s: fRightS, g2: fRightG2, peaks: fRightPeaks});

/* ---------- bar charts ---------- */
function drawBars(cfg) {
  const g = document.getElementById(cfg.id);
  const segs = cfg.segments;
  const scale = function (i, v) {
    const s = segs[i];
    return s.r0 + (v - s.d0) * (s.r1 - s.r0) / (s.d1 - s.d0);
  };
  const yOf = function (v) {
    for (let i = 0; i < segs.length; i++) if (v >= segs[i].d0 && v <= segs[i].d1) return scale(i, v);
    return scale(segs.length - 1, v);
  };
  const barX = function (group, i) { return cfg.start + group * cfg.groupStep + i * cfg.barStep; };
  const last = segs.length - 1;

  cfg.means.forEach(function (row, group) {
    row.forEach(function (v, i) {
      const cx = barX(group, i);
      const x0 = cx - cfg.barWidth / 2;
      const x1 = cx + cfg.barWidth / 2;
      const up = cfg.upper[group][i];
      const colour = cfg.colors[group];
      segs.forEach(function (s, k) {
        if (k > 0 && up <= segs[k - 1].d1) return;
        const lo = Math.max(v, s.d0);
        const hi = Math.min(up, s.d1);
        if (hi > lo) {
          line(g, cx, scale(k, lo), cx, scale(k, hi), '#222', 2.6, 'error-bar-stem');
          if (up <= s.d1) line(g, cx - cfg.barWidth * 0.25, scale(k, up), cx + cfg.barWidth * 0.25, scale(k, up), '#222', 2.8, 'error-bar-cap');
        }
      });
      segs.forEach(function (s, k) {
        if (v <= s.d0) return;
        const top = Math.min(v, s.d1);
        const yT = scale(k, top);
        const yB = s.r0;
        box(g, x0, yT, cfg.barWidth, yB - yT, colour, 'bar-' + cfg.key + '-' + group + '-' + i);
        line(g, x0, yB, x0, yT, '#222', 2.6, 'bar-side');
        line(g, x1, yB, x1, yT, '#222', 2.6, 'bar-side');
        if (v <= s.d1) line(g, x0 - 1, yT, x1 + 1, yT, '#222', 3, 'bar-top');
      });
      line(g, cx, segs[0].r0, cx, segs[0].r0 + cfg.tickLen, '#000', cfg.axisWidth, 'x-tick');
    });
    cfg.categories.forEach(function (name, i) {
      label(g, barX(group, i) + cfg.labelDx[i], cfg.labelY, name, {size: cfg.labelSize, bold: true, italic: cfg.italic, anchor: 'end', rotate: -45}, 'x-tick-label');
    });
  });

  segs.forEach(function (s, k) {
    line(g, cfg.axisX, s.r0, cfg.axisX, s.r1, '#000', cfg.axisWidth, 'y-axis-segment');
    if (k > 0) path(g, 'M' + (cfg.axisX - 9) + ' ' + (s.r0 - 11) + 'L' + (cfg.axisX + 9) + ' ' + (s.r0 + 11), {stroke: '#000', 'stroke-width': cfg.axisWidth, fill: 'none'}, 'axis-break-mark');
    if (k < last) path(g, 'M' + (cfg.axisX - 9) + ' ' + (s.r1 - 11) + 'L' + (cfg.axisX + 9) + ' ' + (s.r1 + 11), {stroke: '#000', 'stroke-width': cfg.axisWidth, fill: 'none'}, 'axis-break-mark');
    cfg.tickValues[k].forEach(function (v, j) {
      const py = scale(k, v);
      const atEnd = (k < last && v === s.d1) || (k > 0 && v === s.d0);
      if (!atEnd) line(g, cfg.tickLeft, py, cfg.axisX, py, '#000', cfg.axisWidth, 'y-tick');
      label(g, cfg.tickRight, py, cfg.tickLabels[k][j], {size: cfg.tickSize, bold: true, anchor: 'end', central: true}, 'y-tick-label');
    });
  });
  line(g, cfg.baseLeft, segs[0].r0, cfg.baseRight, segs[0].r0, '#000', cfg.axisWidth + 1, 'x-axis-line');

  (cfg.annotations || []).forEach(function (a) {
    const x0 = barX(a.group, 0) + a.dx0;
    const x1 = barX(a.group, 1) + a.dx1;
    path(g, 'M' + x0 + ' ' + yOf(a.left) + 'V' + yOf(a.top) + 'H' + x1 + 'V' + yOf(a.right), {fill: 'none', stroke: '#333', 'stroke-width': 2.6}, 'significance-bracket');
    label(g, (x0 + x1) / 2, yOf(a.starAt) + cfg.starSize * 0.48, a.stars, {size: cfg.starSize, bold: true}, 'significance-stars');
  });

  if (cfg.yTitle) label(g, cfg.yTitle.x, cfg.yTitle.y, 'Distribution of phases(%)', {size: cfg.yTitle.size, bold: true, rotate: -90, central: true, length: cfg.yTitle.length}, 'y-axis-title');

  cfg.legend.forEach(function (name, i) {
    const ly = cfg.legendY + i * cfg.legendStep;
    const sw = box(g, cfg.legendX, ly, cfg.swatchW, cfg.swatchH, cfg.colors[i], 'legend-swatch');
    sw.setAttribute('stroke', '#333');
    sw.setAttribute('stroke-width', '3');
    label(g, cfg.legendTextX, ly + cfg.swatchH / 2, name, {size: cfg.legendSize, anchor: 'start', central: true}, 'legend-entry');
  });
}
const fourColors = ['#f3efdc', '#fc7a5b', '#393e5c', '#68b49b'];

drawBars({id: 'chart-c', key: 'c', means: cMeans, upper: cUpper, categories: cCategories, tickValues: cTickValues, tickLabels: cTickLabels,
  colors: fourColors, legend: apoptosisLegend,
  segments: [{d0: 0, d1: 0.3, r0: 513, r1: 386}, {d0: 0.265, d1: 4, r0: 352, r1: 224.6}, {d0: 4.5, d1: 100, r0: 191, r1: 62}],
  start: 1780, groupStep: 169, barStep: 55.5, barWidth: 55, axisX: 1725, axisWidth: 4, tickLeft: 1705, tickRight: 1699, tickSize: 33, tickLen: 19,
  baseLeft: 1704, baseRight: 2402, labelDx: [8, 11], labelY: 570, labelSize: 34, italic: true,
  legendX: 2504, legendY: 82, legendStep: 60.7, swatchW: 46, swatchH: 23, legendTextX: 2577, legendSize: 36});

drawBars({id: 'chart-d', key: 'd', means: dMeans, upper: dUpper, categories: dCategories, tickValues: dTickValues, tickLabels: dTickLabels,
  colors: ['#fd6e68', '#ffc0bf', '#fff7ac'], legend: phaseLegend,
  segments: [{d0: 0, d1: 60, r0: 1327, r1: 782}],
  start: 1860, groupStep: 182, barStep: 61, barWidth: 59, axisX: 1801, axisWidth: 4.5, tickLeft: 1777, tickRight: 1768, tickSize: 40, tickLen: 23,
  baseLeft: 1777, baseRight: 2347, labelDx: [14, 12], labelY: 1380, labelSize: 41.5,
  annotations: [{group: 0, dx0: -31, dx1: 2, top: 56.6, left: 53.5, right: 53.7, starAt: 60.7, stars: '**'}, {group: 1, dx0: -10.5, dx1: 14, top: 47.4, left: 44.4, right: 44.4, starAt: 51.4, stars: '**'}],
  starSize: 60, yTitle: {x: 1685, y: 1054, size: 46, length: 518},
  legendX: 2471, legendY: 807, legendStep: 73, swatchW: 57, swatchH: 27, legendTextX: 2562, legendSize: 44});

drawBars({id: 'chart-g', key: 'g', means: gMeans, upper: gUpper, categories: gCategories, tickValues: gTickValues, tickLabels: gTickLabels,
  colors: fourColors, legend: apoptosisLegend,
  segments: [{d0: 0, d1: 2, r0: 2135, r1: 2024}, {d0: 2, d1: 5, r0: 1993.5, r1: 1884}, {d0: 6, d1: 80, r0: 1854, r1: 1743}],
  start: 1867.5, groupStep: 147.33, barStep: 49, barWidth: 47.5, axisX: 1819, axisWidth: 4, tickLeft: 1802, tickRight: 1798, tickSize: 31, tickLen: 17,
  baseLeft: 1802, baseRight: 2409, labelDx: [11, 11], labelY: 2178, labelSize: 31, italic: true,
  annotations: [{group: 2, dx0: -13.5, dx1: -9, top: 66.3, left: 52.3, right: 52.3, starAt: 84.7, stars: '**'}, {group: 3, dx0: -2.5, dx1: -1.5, top: 94.7, left: 81.3, right: 81.3, starAt: 113, stars: '**'}],
  starSize: 46,
  legendX: 2498, legendY: 1761, legendStep: 52.7, swatchW: 41, swatchH: 19, legendTextX: 2562, legendSize: 32});

drawBars({id: 'chart-h', key: 'h', means: hMeans, upper: hUpper, categories: hCategories, tickValues: hTickValues, tickLabels: hTickLabels,
  colors: ['#ff6f69', '#ffb0ac', '#fff592'], legend: phaseLegend,
  segments: [{d0: 0, d1: 60, r0: 2925.6, r1: 2440}],
  start: 1936.5, groupStep: 161.75, barStep: 54.25, barWidth: 51.5, axisX: 1885, axisWidth: 4.5, tickLeft: 1862.5, tickRight: 1857, tickSize: 38, tickLen: 22,
  baseLeft: 1862.5, baseRight: 2369.5, labelDx: [13, 11], labelY: 2976, labelSize: 37,
  annotations: [{group: 0, dx0: -16, dx1: 7, top: 56, left: 51.7, right: 52, starAt: 60, stars: '**'}, {group: 1, dx0: -16.5, dx1: 4.5, top: 42, left: 39, right: 39.2, starAt: 46, stars: '*'}],
  starSize: 52, yTitle: {x: 1781, y: 2683, size: 42, length: 462},
  legendX: 2479, legendY: 2461, legendStep: 65.7, swatchW: 50, swatchH: 24, legendTextX: 2560, legendSize: 40});
</script>
</body>
</html>
